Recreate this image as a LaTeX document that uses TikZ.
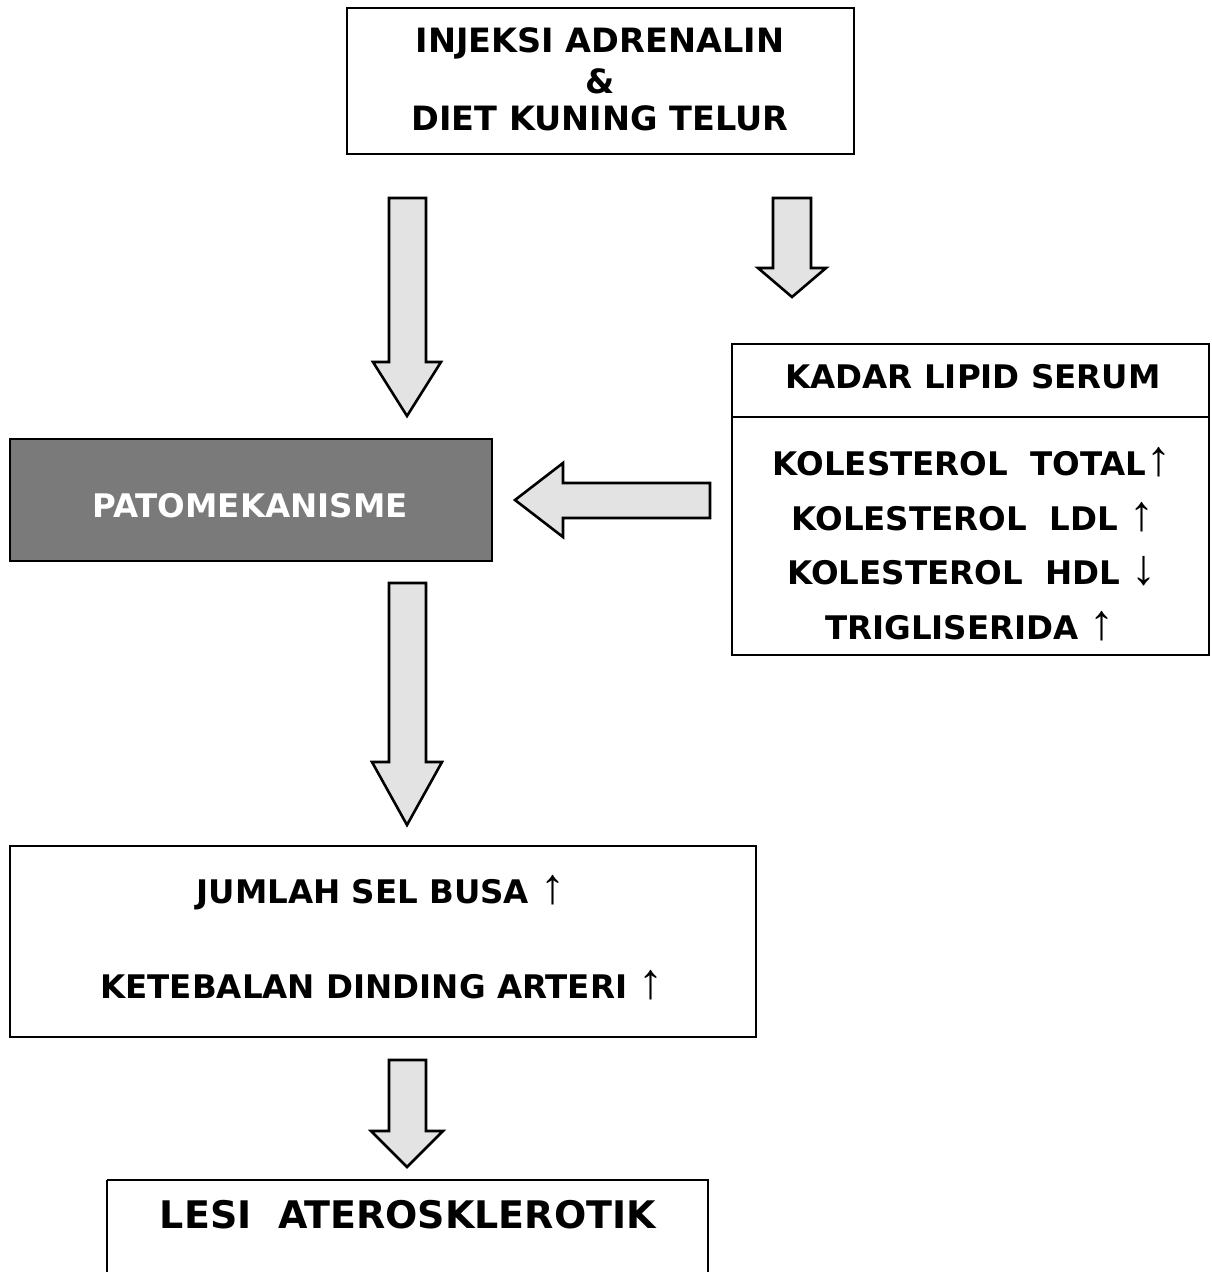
\documentclass[tikz,border=0pt]{standalone}
\usepackage{fontspec}
\setmainfont{DejaVu Sans}
\newfontfamily\arrfont{Liberation Serif}
\newcommand\upar{{\arrfont\mdseries\fontsize{50}{50}\selectfont↑}}
\newcommand\dnar{{\arrfont\mdseries\fontsize{50}{50}\selectfont↓}}
\begin{document}
\begin{tikzpicture}[x=1pt,y=-1pt,
  boxs/.style={draw=black,line width=1.8pt,inner sep=0pt},
  txt/.style={font=\fontsize{32.5}{38}\selectfont\bfseries,inner sep=0pt},
  toptxt/.style={font=\fontsize{33.5}{38}\selectfont\bfseries,inner sep=0pt},
  bigtxt/.style={font=\fontsize{38}{44}\selectfont\bfseries,inner sep=0pt},
  blockarrow/.style={draw=black,line width=2.6pt,fill=black!11,line join=miter}]
\useasboundingbox (0,0) rectangle (1211,1272);
% boxes
\draw[boxs] (347,8) rectangle (854,154);
\node (top) at (600.5,81) {};
\draw[boxs] (732,344) rectangle (1209,655);
\draw[line width=1.8pt] (732,417) -- (1209,417);
\node (kadar) at (970,500) {};
\draw[boxs,fill=black!52] (10,439) rectangle (492,561);
\node (pato) at (251,500) {};
\draw[boxs] (10,846) rectangle (756,1037);
\node (jumlah) at (383,941) {};
\draw[boxs] (107,1180) -- (107,1274) (107,1180) -- (708,1180) -- (708,1274);
\node (lesi) at (408,1226) {};
% texts
\node[toptxt] (t1) at (600,43) {INJEKSI ADRENALIN};
\node[toptxt] (t2) at (600,81) {\&};
\node[toptxt] (t3) at (600,118) {DIET KUNING TELUR};
\node[txt] (k0) at (973,377) {KADAR LIPID SERUM};
\node[txt,anchor=base] (k1) at (972,475) {KOLESTEROL\ \ TOTAL\upar};
\node[txt,anchor=base] (k2) at (973,530) {KOLESTEROL\ \ LDL \upar};
\node[txt,anchor=base] (k3) at (972,584) {KOLESTEROL\ \ HDL \dnar};
\node[txt,anchor=base] (k4) at (970,639) {TRIGLISERIDA \upar};
\node[txt,text=white] (p1) at (250,506) {PATOMEKANISME};
\node[txt,anchor=base] (j1) at (381,903) {JUMLAH SEL BUSA \upar};
\node[txt,anchor=base] (j2) at (382,998) {KETEBALAN DINDING ARTERI \upar};
\node[bigtxt] (l1) at (408,1215) {LESI\ \ ATEROSKLEROTIK};
% block arrows
\draw[blockarrow] (389,198) -- (426,198) -- (426,362) -- (441,362) -- (407,416) -- (373,362) -- (389,362) -- cycle;
\draw[blockarrow] (773,198) -- (811,198) -- (811,268) -- (826,268) -- (792,297) -- (758,268) -- (773,268) -- cycle;
\draw[blockarrow] (710,483) -- (563,483) -- (563,463) -- (515,500) -- (563,537) -- (563,518) -- (710,518) -- cycle;
\draw[blockarrow] (389,583) -- (426,583) -- (426,762) -- (442,762) -- (407,825) -- (372,762) -- (389,762) -- cycle;
\draw[blockarrow] (389,1060) -- (426,1060) -- (426,1131) -- (443,1131) -- (407,1167) -- (371,1131) -- (389,1131) -- cycle;
\end{tikzpicture}
\end{document}
